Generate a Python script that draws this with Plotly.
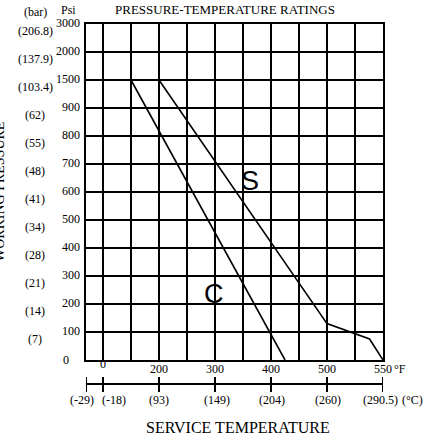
import numpy as np
import plotly.graph_objects as go

# ---- data ----
temp_grid_F = [-20, 0, 100, 200, 250, 300, 350, 400, 450, 500, 525, 550]
psi_grid = [0, 100, 200, 300, 400, 500, 600, 700, 800, 900, 1500, 2000, 3000]
psi_labels = ["0", "100", "200", "300", "400", "500", "600", "700", "800", "900", "1500", "2000", "3000"]
bar_labels = ["(7)", "(14)", "(21)", "(28)", "(34)", "(41)", "(48)", "(55)", "(62)", "(103.4)", "(137.9)", "(206.8)"]
f_label_vals = [-20, 0, 200, 300, 400, 500, 550]
c_labels = ["(-29)", "(-18)", "(93)", "(149)", "(204)", "(260)", "(290.5)"]

s_temp = [200, 500, 538, 550]
s_psi = [1500, 130, 75, 0]
c_temp = [100, 425]
c_psi = [1500, 0]

# ---- layout geometry ----
W, H = 429, 445
L, R, T, B = 86, 46, 24, 85
PW, PH = W - L - R, H - T - B
xpos_grid = [-17 / 28] + list(range(0, 11))


def fpos(t):
    return np.interp(t, temp_grid_F, xpos_grid)


def ppos(p):
    return np.interp(p, psi_grid, list(range(len(psi_grid))))


def px(xp):
    return (xp - L) / PW


def py(yp):
    return (H - B - yp) / PH


FONT = "Liberation Serif"
fig = go.Figure()

fig.add_trace(go.Scatter(x=fpos(s_temp), y=ppos(s_psi), mode="lines",
                         line=dict(color="black", width=1.6), showlegend=False, hoverinfo="skip"))
fig.add_trace(go.Scatter(x=fpos(c_temp), y=ppos(c_psi), mode="lines",
                         line=dict(color="black", width=1.6), showlegend=False, hoverinfo="skip"))

ann = []
# S / C labels
ann.append(dict(x=px(250), y=py(181), xref="paper", yref="paper", text="S", showarrow=False,
                font=dict(family="Liberation Sans", size=27, color="black")))
ann.append(dict(x=px(214), y=py(311), xref="paper", yref="paper", text="C", showarrow=False,
                font=dict(family="Liberation Sans", size=27, color="black")))

# psi tick labels
for i, lab in enumerate(psi_labels):
    if lab == "0":
        ann.append(dict(x=px(66), y=i, xref="paper", yref="y", text=lab, showarrow=False,
                        xanchor="center", yanchor="middle", font=dict(family=FONT, size=12, color="black")))
    else:
        ann.append(dict(x=px(82), y=i, xref="paper", yref="y", text=lab, showarrow=False,
                        xanchor="right", yanchor="middle", yshift=1, font=dict(family=FONT, size=12, color="black")))
# bar labels
for i, lab in enumerate(bar_labels):
    ann.append(dict(x=px(35), y=i + 1, xref="paper", yref="y", text=lab, showarrow=False,
                    xanchor="center", yanchor="middle", yshift=-7, font=dict(family=FONT, size=12, color="black")))

ann.append(dict(x=px(35), y=py(12), xref="paper", yref="paper", text="(bar)", showarrow=False,
                xanchor="center", yanchor="middle", font=dict(family=FONT, size=12, color="black")))
ann.append(dict(x=px(68), y=py(10), xref="paper", yref="paper", text="Psi", showarrow=False,
                xanchor="center", yanchor="middle", font=dict(family=FONT, size=12, color="black")))
ann.append(dict(x=px(225), y=py(10), xref="paper", yref="paper", text="PRESSURE-TEMPERATURE RATINGS",
                showarrow=False, xanchor="center", yanchor="middle", font=dict(family=FONT, size=13, color="black")))
ann.append(dict(x=px(-1), y=py(192), xref="paper", yref="paper", text="WORKING PRESSURE", textangle=-90,
                showarrow=False, xanchor="center", yanchor="middle", font=dict(family=FONT, size=14, color="black")))

# F labels
for v in f_label_vals:
    xx = fpos(v)
    yy = 364 if v == 0 else 369
    if v == -20:
        xx = fpos(-20) - 0.1
    ann.append(dict(x=xx, y=py(yy), xref="x", yref="paper", text=str(v), showarrow=False,
                    xanchor="center", yanchor="middle", font=dict(family=FONT, size=12, color="black")))
ann.append(dict(x=px(392), y=py(369), xref="paper", yref="paper", text="°F", showarrow=False,
                xanchor="left", yanchor="middle", font=dict(family=FONT, size=12, color="black")))

# C labels
c_px = [82, 114, 159, 217, 272, 328, 380]
for lab, cx in zip(c_labels, c_px):
    ann.append(dict(x=px(cx), y=py(400), xref="paper", yref="paper", text=lab, showarrow=False,
                    xanchor="center", yanchor="middle", font=dict(family=FONT, size=12, color="black")))
ann.append(dict(x=px(400), y=py(400), xref="paper", yref="paper", text="(°C)", showarrow=False,
                xanchor="left", yanchor="middle", font=dict(family=FONT, size=12, color="black")))

ann.append(dict(x=px(238), y=py(427), xref="paper", yref="paper", text="SERVICE TEMPERATURE", showarrow=False,
                xanchor="center", yanchor="middle", font=dict(family=FONT, size=16, color="black")))

shapes = []
shapes.append(dict(type="line", xref="x", yref="paper", x0=fpos(-20), x1=fpos(550), y0=py(384), y1=py(384),
                   line=dict(color="black", width=2)))
for v in f_label_vals:
    shapes.append(dict(type="line", xref="x", yref="paper", x0=fpos(v), x1=fpos(v), y0=py(377), y1=py(392),
                       line=dict(color="black", width=2)))

fig.update_layout(
    width=W, height=H, margin=dict(l=L, r=R, t=T, b=B),
    paper_bgcolor="white", plot_bgcolor="white",
    annotations=ann, shapes=shapes, showlegend=False,
    xaxis=dict(range=[xpos_grid[0], xpos_grid[-1]], tickvals=xpos_grid, showticklabels=False, ticks="",
               showgrid=True, gridcolor="black", gridwidth=1.6, zeroline=False,
               showline=True, linecolor="black", linewidth=2, mirror=True),
    yaxis=dict(range=[0, len(psi_grid) - 1], tickvals=list(range(len(psi_grid))), showticklabels=False, ticks="",
               showgrid=True, gridcolor="black", gridwidth=1.6, zeroline=False,
               showline=True, linecolor="black", linewidth=2, mirror=True),
)

fig.write_html("out.html", config={"displayModeBar": False},
               post_script="document.body.style.margin='0';document.body.style.overflow='hidden';")
